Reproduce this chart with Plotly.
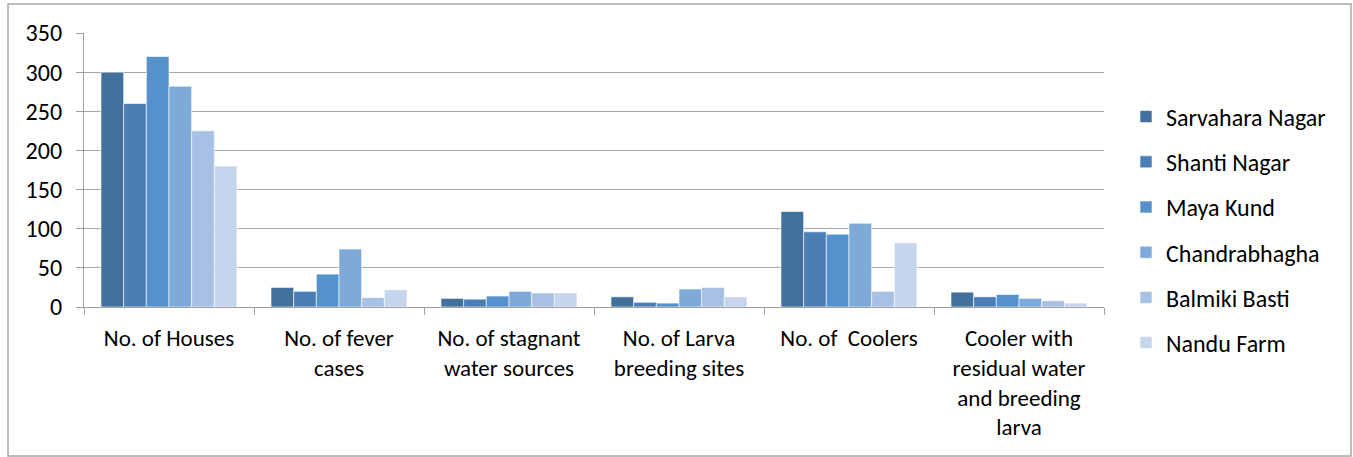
import plotly.graph_objects as go

# Survey indicators (x categories, line breaks as shown under the axis)
categories = [
    "No. of Houses",
    "No. of fever<br>cases",
    "No. of stagnant<br>water sources",
    "No. of Larva<br>breeding sites",
    "No. of \u00a0Coolers",
    "Cooler with<br>residual water<br>and breeding<br>larva",
]

localities = ["Sarvahara Nagar", "Shanti Nagar", "Maya Kund",
              "Chandrabhagha", "Balmiki Basti", "Nandu Farm"]

sarvahara_nagar = [300, 25, 11, 13, 122, 19]
shanti_nagar = [260, 20, 10, 6, 96, 13]
maya_kund = [320, 42, 14, 5, 93, 16]
chandrabhagha = [282, 74, 20, 23, 107, 11]
balmiki_basti = [225, 12, 18, 25, 20, 8]
nandu_farm = [180, 22, 18, 13, 82, 5]

series = [sarvahara_nagar, shanti_nagar, maya_kund,
          chandrabhagha, balmiki_basti, nandu_farm]
colors = ["#41719C", "#4A7EB5", "#5592CC", "#7DAAD9", "#A7C1E4", "#C5D5EC"]

y_ticks = [0, 50, 100, 150, 200, 250, 300, 350]

FONT = "Carlito, Lato, sans-serif"
W, H = 1353, 457
ML, MR, MT, MB = 84, 249, 33, 150

fig = go.Figure()
for name, vals, col in zip(localities, series, colors):
    fig.add_trace(go.Bar(
        x=categories, y=vals, name=name,
        marker=dict(color=col, line=dict(color="rgba(255,255,255,0.6)", width=1)),
        legendgroup=name,
    ))

pw = W - ML - MR
ph = H - MT - MB

def px_x(p):
    return (p - ML) / pw

def px_y(p):
    return (H - MB - p) / ph

fig.update_layout(
    width=W, height=H,
    margin=dict(l=ML, r=MR, t=MT, b=MB, pad=0),
    paper_bgcolor="white", plot_bgcolor="white",
    barmode="group", bargap=0.2, bargroupgap=0,
    font=dict(family=FONT, size=24, color="#000000"),
    showlegend=True,
    legend=dict(
        x=px_x(1126), xanchor="left",
        y=px_y(230), yanchor="middle",
        tracegroupgap=11,
        maxheight=440,
        font=dict(family=FONT, size=24, color="#000000"),
        bgcolor="rgba(0,0,0,0)",
    ),
    xaxis=dict(
        type="category",
        showline=True, linecolor="#A0A0A0", linewidth=1.2,
        ticks="outside", tickson="boundaries", ticklen=7,
        tickcolor="#A0A0A0", tickwidth=1.2,
        showgrid=False, zeroline=False,
        tickfont=dict(family=FONT, size=23, color="#000000"),
        ticklabelstandoff=10,
    ),
    yaxis=dict(
        range=[0, 350], tickvals=y_ticks,
        showline=True, linecolor="#A0A0A0", linewidth=1.2,
        ticks="outside", ticklen=7, tickcolor="#A0A0A0", tickwidth=1.2,
        showgrid=True, gridcolor="#A6A6A6", gridwidth=1.2,
        zeroline=False,
        tickfont=dict(family=FONT, size=24, color="#000000"),
        ticklabelstandoff=9,
    ),
    shapes=[dict(
        type="rect", xref="paper", yref="paper",
        x0=px_x(8), x1=px_x(1351), y0=px_y(456), y1=px_y(4),
        line=dict(color="#A6A6A6", width=1.5), fillcolor="rgba(0,0,0,0)",
        layer="below",
    )],
)

fig.write_html("out.html")
